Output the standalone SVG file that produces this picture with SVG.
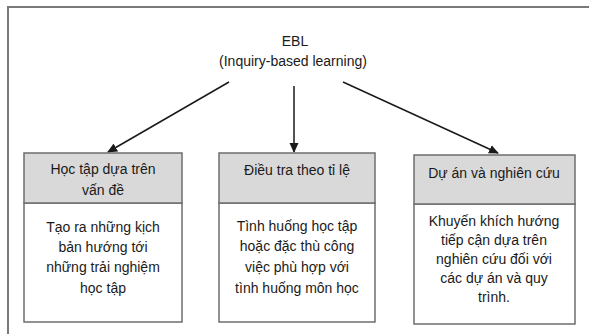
<svg xmlns="http://www.w3.org/2000/svg" width="589" height="334" viewBox="0 0 589 334">
<style>
text{font-family:"Liberation Sans","DejaVu Sans",sans-serif;font-size:14px;fill:#1a1a1a;text-anchor:middle}
.frame{fill:none;stroke:#7a7a7a;stroke-width:2}
.hd{fill:#d9d9d9;stroke:#6e6e6e;stroke-width:1.5}
.bd{fill:#ffffff;stroke:#6e6e6e;stroke-width:1.5}
.con{stroke:#1a1a1a;stroke-width:1.5;fill:none;marker-end:url(#ah)}
</style>
<defs>
<marker id="ah" markerWidth="10" markerHeight="10" refX="9" refY="5" orient="auto" markerUnits="userSpaceOnUse">
<path d="M0,0.5 L10,5 L0,9.5 Z" fill="#1a1a1a"/>
</marker>
</defs>
<rect width="589" height="334" fill="#ffffff"/>
<path class="frame" d="M8,345 V7 H600"/>
<g id="root">
<text x="295" y="46">EBL</text>
<text x="293" y="66">(Inquiry-based learning)</text>
</g>
<g id="connectors">
<line class="con" x1="229" y1="82" x2="108" y2="152"/>
<line class="con" x1="294" y1="86" x2="294" y2="152"/>
<line class="con" x1="343" y1="82" x2="498" y2="153"/>
</g>
<g id="n1">
<rect class="bd" x="24" y="203" width="158" height="119"/>
<rect class="hd" x="24" y="153" width="158" height="50"/>
<text x="103" y="174">Học tập dựa trên</text>
<text x="103" y="195">vấn đề</text>
<text x="103" y="232">Tạo ra những kịch</text>
<text x="103" y="252">bản hướng tới</text>
<text x="103" y="272">những trải nghiệm</text>
<text x="103" y="293">học tập</text>
</g>
<g id="n2">
<rect class="bd" x="219" y="203" width="156" height="119"/>
<rect class="hd" x="219" y="153" width="156" height="50"/>
<text x="297" y="175">Điều tra theo tỉ lệ</text>
<text x="297" y="231">Tình huống học tập</text>
<text x="297" y="251">hoặc đặc thù công</text>
<text x="297" y="272">việc phù hợp với</text>
<text x="297" y="293">tình huống môn học</text>
</g>
<g id="n3">
<rect class="bd" x="414" y="204" width="161" height="120"/>
<rect class="hd" x="414" y="155" width="161" height="49"/>
<text x="494" y="178">Dự án và nghiên cứu</text>
<text x="494" y="226">Khuyến khích hướng</text>
<text x="494" y="245">tiếp cận dựa trên</text>
<text x="494" y="264">nghiên cứu đối với</text>
<text x="494" y="283">các dự án và quy</text>
<text x="494" y="302">trình.</text>
</g>
</svg>
